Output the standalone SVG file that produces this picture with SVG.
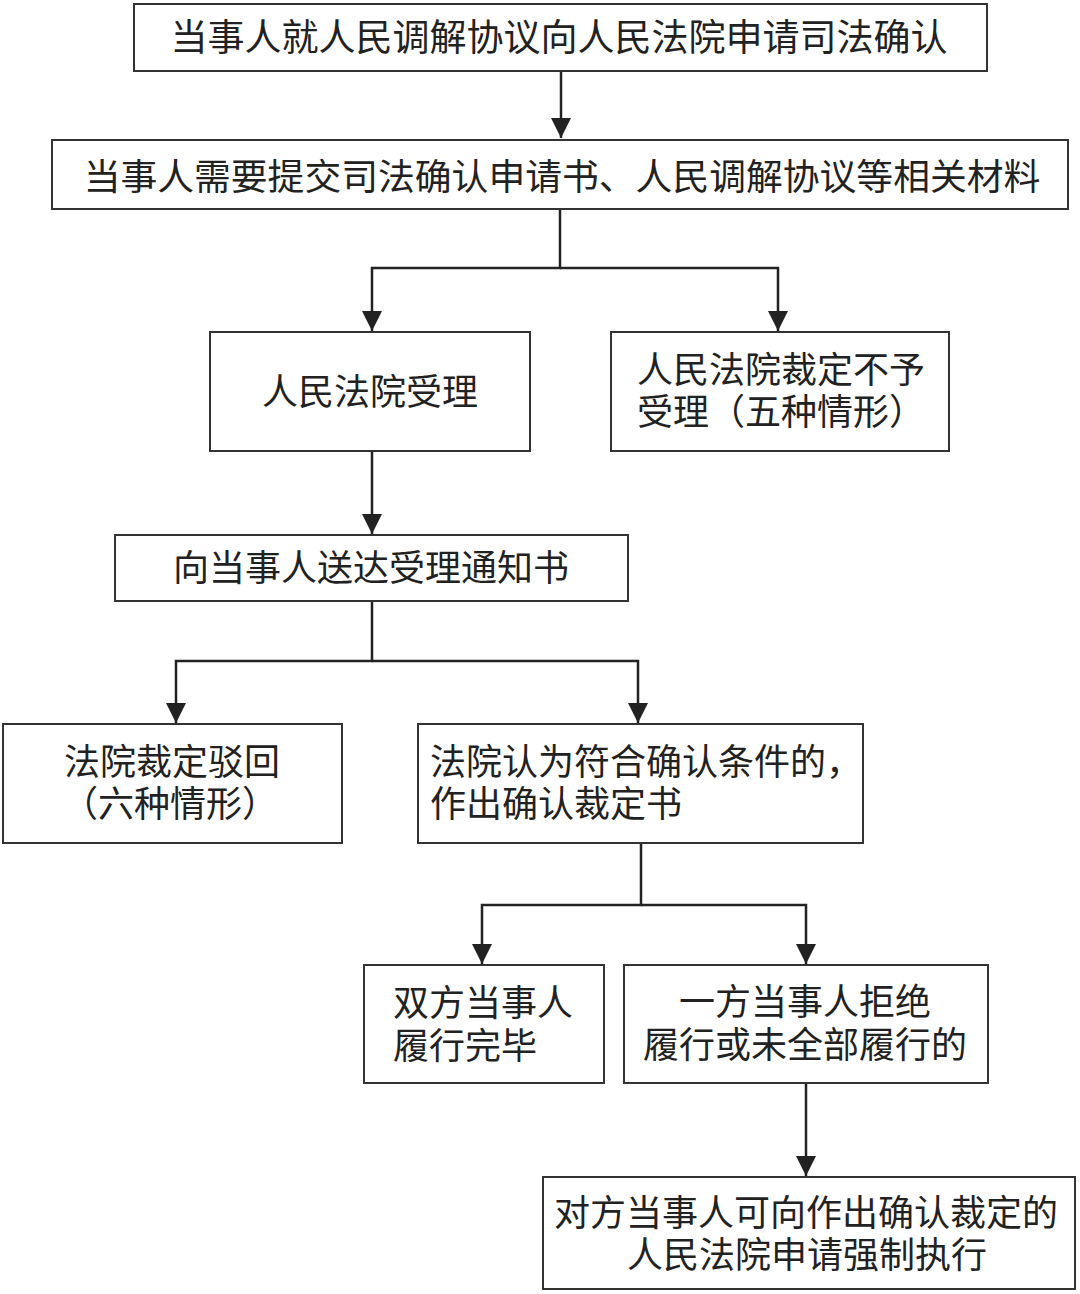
<svg xmlns="http://www.w3.org/2000/svg" width="1080" height="1294" viewBox="0 0 1080 1294">
<style>
.box{fill:#fff;stroke:#333;stroke-width:2}
.t{font-family:"Noto Sans CJK SC","Noto Sans",sans-serif;font-size:36px;fill:#222}
.m{text-anchor:middle}
.c{fill:none;stroke:#222;stroke-width:2.5}
</style>
<defs>
<marker id="ah" markerUnits="userSpaceOnUse" markerWidth="22" markerHeight="20" refX="20" refY="10" orient="auto">
<path d="M0,0 L20,10 L0,20 Z" fill="#222"/>
</marker>
</defs>
<rect width="1080" height="1294" fill="#fff"/>
<g id="connectors">
<path class="c" d="M561,71 V138" marker-end="url(#ah)"/>
<path class="c" d="M560,209 V268 H372 V331" marker-end="url(#ah)"/>
<path class="c" d="M560,268 H778 V331" marker-end="url(#ah)"/>
<path class="c" d="M372,451 V534" marker-end="url(#ah)"/>
<path class="c" d="M372,601 V661 H176 V723" marker-end="url(#ah)"/>
<path class="c" d="M372,661 H638 V723" marker-end="url(#ah)"/>
<path class="c" d="M641,843 V905 H482 V964" marker-end="url(#ah)"/>
<path class="c" d="M641,905 H806 V964" marker-end="url(#ah)"/>
<path class="c" d="M806,1083 V1176" marker-end="url(#ah)"/>
</g>
<g id="n1"><rect class="box" x="134" y="4" width="853" height="67"/><text class="t m" x="559" y="51" style="font-size:37px">当事人就人民调解协议向人民法院申请司法确认</text></g>
<g id="n2"><rect class="box" x="52" y="140" width="1016" height="69"/><text class="t m" x="562" y="190" style="font-size:36.8px">当事人需要提交司法确认申请书、人民调解协议等相关材料</text></g>
<g id="n3"><rect class="box" x="210" y="332" width="320" height="119"/><text class="t m" x="370" y="405">人民法院受理</text></g>
<g id="n4"><rect class="box" x="611" y="332" width="338" height="119"/><text class="t" x="637" y="383">人民法院裁定不予</text><text class="t" x="637" y="425">受理（五种情形）</text></g>
<g id="n5"><rect class="box" x="115" y="535" width="513" height="66"/><text class="t m" x="371" y="581">向当事人送达受理通知书</text></g>
<g id="n6"><rect class="box" x="3" y="724" width="339" height="119"/><text class="t m" x="172" y="775">法院裁定驳回</text><text class="t m" x="170" y="817">（六种情形）</text></g>
<g id="n7"><rect class="box" x="418" y="724" width="445" height="119"/><text class="t" x="430" y="775">法院认为符合确认条件的，</text><text class="t" x="430" y="817">作出确认裁定书</text></g>
<g id="n8"><rect class="box" x="364" y="965" width="240" height="118"/><text class="t" x="393" y="1016">双方当事人</text><text class="t" x="393" y="1059">履行完毕</text></g>
<g id="n9"><rect class="box" x="624" y="965" width="364" height="118"/><text class="t m" x="805" y="1015">一方当事人拒绝</text><text class="t m" x="805" y="1058">履行或未全部履行的</text></g>
<g id="n10"><rect class="box" x="543" y="1177" width="532" height="112"/><text class="t m" x="806" y="1226">对方当事人可向作出确认裁定的</text><text class="t m" x="807" y="1268">人民法院申请强制执行</text></g>
</svg>
